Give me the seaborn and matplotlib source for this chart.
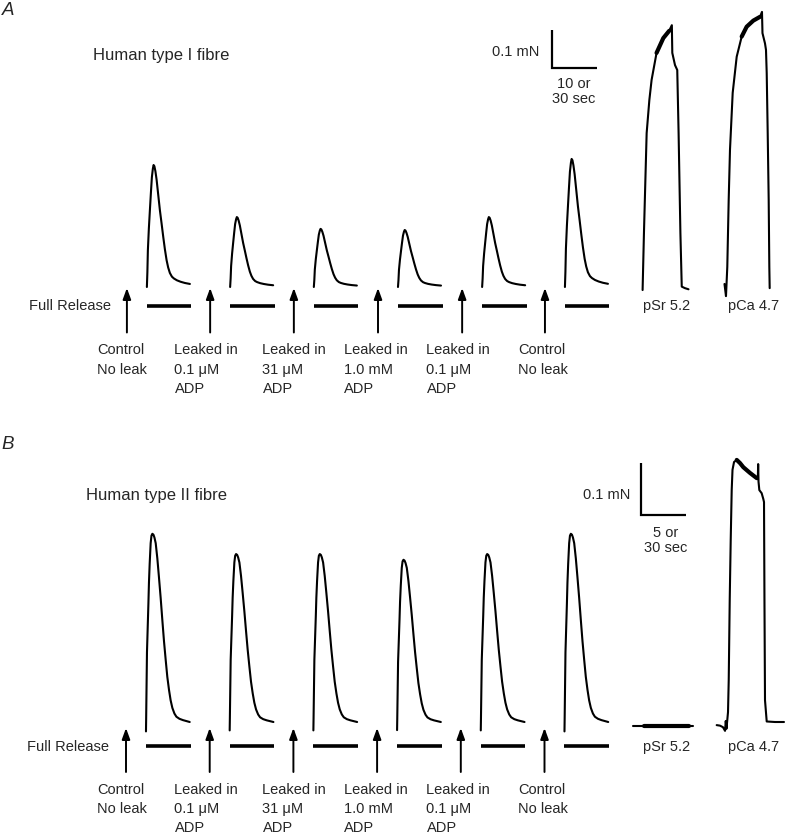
import numpy as np
import pandas as pd
import seaborn as sns
import matplotlib.pyplot as plt

# ---- data ----
conditions = ["Control\nNo leak", "Leaked in\n0.1 \u03bcM\nADP", "Leaked in\n31 \u03bcM\nADP",
              "Leaked in\n1.0 mM\nADP", "Leaked in\n0.1 \u03bcM\nADP", "Control\nNo leak"]

# time of each full-release arrow (s)
release_a = [28.2, 46.7, 65.3, 84.0, 102.7, 121.1]
release_b = [14.0, 23.3, 32.6, 41.9, 51.2, 60.5]
# delay from the arrow to the start of the force record, and length of the bar (s)
delay_a, bar_a = 4.44, 9.9
delay_b, bar_b = 2.22, 4.95

# peak force of each release response (mN)
peak_a = [0.321, 0.184, 0.153, 0.150, 0.184, 0.337]
peak_b = [0.362, 0.323, 0.323, 0.312, 0.323, 0.362]

# normalised response shape (s from record start, fraction of peak)
shape_a_t = [0, 0.11, 0.22, 0.44, 0.67, 0.89, 1.11, 1.33, 1.49, 1.67, 1.89, 2.16, 2.51,
             2.89, 3.27, 3.64, 4.0, 4.38, 4.73, 5.11, 5.56, 6.0, 6.67, 7.49, 8.44, 9.56]
shape_a_f = [0, 0.12, 0.30, 0.48, 0.63, 0.77, 0.90, 0.97, 1.0, 0.99, 0.95, 0.88, 0.76,
             0.63, 0.52, 0.41, 0.31, 0.22, 0.16, 0.115, 0.085, 0.07, 0.055, 0.043, 0.033, 0.025]
shape_b_t = [0, 0.02, 0.11, 0.19, 0.27, 0.33, 0.41, 0.52, 0.61, 0.71, 0.83, 0.94, 1.08, 1.26,
             1.44, 1.63, 1.82, 2.0, 2.19, 2.37, 2.56, 2.74, 2.93, 3.16, 3.38, 3.72, 4.11, 4.86]
shape_b_f = [-0.05, 0.02, 0.37, 0.50, 0.63, 0.74, 0.84, 0.95, 0.99, 1.0, 0.995, 0.98, 0.95, 0.87,
             0.77, 0.66, 0.54, 0.43, 0.33, 0.24, 0.17, 0.115, 0.075, 0.045, 0.028, 0.017, 0.01, 0.0]

# maximal Sr2+ / Ca2+ activations (s, mN)
psr_a_t = [142.8, 143.1, 143.4, 143.7, 144.3, 144.8, 145.9, 147.4, 148.7, 149.3, 149.4,
           150.0, 150.5, 150.8, 151.2, 151.5, 152.2, 153.0]
psr_a_f = [-0.008, 0.142, 0.274, 0.405, 0.492, 0.545, 0.616, 0.655, 0.674, 0.689, 0.616,
           0.584, 0.571, 0.405, 0.142, 0.001, -0.003, -0.006]
pca_a_t = [161.0, 161.33, 161.62, 161.93, 162.22, 162.82, 163.71, 164.82, 165.93, 167.4,
           168.89, 169.33, 169.44, 170.0, 170.22, 170.38, 170.6, 170.82, 170.96, 171.04]
pca_a_f = [0.008, -0.024, 0.053, 0.229, 0.361, 0.511, 0.606, 0.659, 0.685, 0.701,
           0.711, 0.724, 0.668, 0.641, 0.624, 0.563, 0.405, 0.229, 0.053, -0.003]
psr_b_t = [70.3, 71.5, 76.5, 77.0]
psr_b_f = [-0.008, -0.008, -0.008, -0.008]
pca_b_t = [79.63, 80.0, 80.33, 80.56, 80.64, 80.72, 80.89, 80.97, 81.08, 81.19, 81.30, 81.39,
           81.56, 81.86, 82.22, 82.59, 83.33, 84.08, 84.20, 84.24, 84.28, 84.37, 84.63, 84.81,
           84.89, 84.94, 85.0, 85.19, 86.11, 87.11]
pca_b_f = [-0.006, -0.007, -0.010, -0.017, 0.002, -0.013, 0.019, 0.081, 0.235, 0.350, 0.446, 0.485,
           0.500, 0.504, 0.498, 0.490, 0.479, 0.469, 0.467, 0.496, 0.462, 0.446, 0.440, 0.429,
           0.423, 0.235, 0.042, 0.001, 0.0, 0.0]

# ---- layout (pixels of the 785x835 canvas) ----
W, H = 785, 835
panels = [
    dict(letter="A", title="Human type I fibre", top=0, bottom=420, base=287, px_s=4.5, px_mN=380,
         release=release_a, delay=delay_a, bar=bar_a, peak=peak_a, sh_t=shape_a_t, sh_f=shape_a_f,
         psr=(psr_a_t, psr_a_f), pca=(pca_a_t, pca_a_f), noise=[(145.5, 149.0), (164.5, 169.0)],
         letter_xy=(1.5, 15), title_xy=(93, 60), full_xy=(29, 310.5), arrow_y=(332.5, 288),
         bar_y=306, cond_y=354.5, pitch=19.3, bar_s=10, sec_txt="10 or", sb_xy=(552.3, 68.3),
         mn_xy=(539, 56.5), sec_x=573.3, sec_y=(87.7, 102.7), act_y=310),
    dict(letter="B", title="Human type II fibre", top=420, bottom=835, base=722, px_s=9.0, px_mN=520,
         release=release_b, delay=delay_b, bar=bar_b, peak=peak_b, sh_t=shape_b_t, sh_f=shape_b_f,
         psr=(psr_b_t, psr_b_f), pca=(pca_b_t, pca_b_f), noise=[(71.5, 76.5), (81.8, 84.1)],
         letter_xy=(1.5, 449.3), title_xy=(86, 500), full_xy=(26.7, 750.7), arrow_y=(772, 728),
         bar_y=746, cond_y=794, pitch=18.8, bar_s=5, sec_txt="5 or", sb_xy=(641, 515),
         mn_xy=(630, 499.3), sec_x=665.8, sec_y=(537.3, 552.3), act_y=750.5),
]
cond_left = [97, 174.5, 262.5, 344, 426.5, 518.5]
act_x = [667, 753.5]

sns.set_style("white")
plt.rcParams['font.family'] = ['Liberation Sans', 'DejaVu Sans']
SMALL = 10.5

fig = plt.figure(figsize=(W / 100, H / 100), dpi=100)

for g in panels:
    ax = fig.add_axes([0, 1 - g['bottom'] / H, 1, (g['bottom'] - g['top']) / H])
    ax.set_xlim(0, W / g['px_s'])
    ax.set_ylim((g['base'] - g['bottom']) / g['px_mN'], (g['base'] - g['top']) / g['px_mN'])
    ax.axis('off')

    def pos(x, y, g=g):
        return x / g['px_s'], (g['base'] - y) / g['px_mN']

    # force records
    rows = []
    for i, (r, p) in enumerate(zip(g['release'], g['peak'])):
        for t, f in zip(g['sh_t'], g['sh_f']):
            rows.append((r + g['delay'] + t, p * f, f"r{i}"))
    for name in ('psr', 'pca'):
        for t, f in zip(*g[name]):
            rows.append((t, f, name))
    df = pd.DataFrame(rows, columns=['time', 'force', 'trace'])
    sns.lineplot(data=df, x='time', y='force', units='trace', estimator=None, sort=False,
                 color='black', linewidth=1.5, legend=False, ax=ax)
    # noisy plateaus drawn thicker
    act = df[df['trace'].isin(['psr', 'pca'])]
    for t0, t1 in g['noise']:
        seg = act[(act['time'] >= t0) & (act['time'] <= t1)]
        ax.plot(seg['time'], seg['force'], color='black', lw=3.0, solid_capstyle='round')

    # release arrows, exposure bars and condition labels
    _, y_bot = pos(0, g['arrow_y'][0])
    _, y_top = pos(0, g['arrow_y'][1])
    _, y_bar = pos(0, g['bar_y'])
    for i, r in enumerate(g['release']):
        ax.annotate('', xy=(r, y_top), xytext=(r, y_bot),
                    arrowprops=dict(arrowstyle='-|>,head_length=0.55,head_width=0.2',
                                    color='black', lw=1.4, shrinkA=0, shrinkB=0,
                                    mutation_scale=12))
        ax.plot([r + g['delay'], r + g['delay'] + g['bar']], [y_bar, y_bar],
                color='black', lw=2.6, solid_capstyle='butt')
        for k, line in enumerate(conditions[i].split('\n')):
            ax.text(*pos(cond_left[i], g['cond_y'] + g['pitch'] * k), line,
                    fontsize=SMALL, ha='left', va='baseline')

    # scale bar
    x0, y0 = pos(*g['sb_xy'])
    ax.plot([x0, x0, x0 + g['bar_s']], [y0 + 0.1, y0, y0], color='black', lw=1.6,
            solid_joinstyle='miter', solid_capstyle='butt')
    ax.text(*pos(*g['mn_xy']), "0.1 mN", fontsize=SMALL, ha='right', va='baseline')
    ax.text(*pos(g['sec_x'], g['sec_y'][0]), g['sec_txt'], fontsize=SMALL, ha='center', va='baseline')
    ax.text(*pos(g['sec_x'], g['sec_y'][1]), "30 sec", fontsize=SMALL, ha='center', va='baseline')

    # texts
    ax.text(*pos(*g['letter_xy']), g['letter'], fontsize=13.5, style='italic', ha='left', va='baseline')
    ax.text(*pos(*g['title_xy']), g['title'], fontsize=12, ha='left', va='baseline')
    ax.text(*pos(*g['full_xy']), "Full Release", fontsize=SMALL, ha='left', va='baseline')
    ax.text(*pos(act_x[0], g['act_y']), "pSr 5.2", fontsize=SMALL, ha='center', va='baseline')
    ax.text(*pos(act_x[1], g['act_y']), "pCa 4.7", fontsize=SMALL, ha='center', va='baseline')

fig.savefig('out.png', dpi=100, facecolor='white')
